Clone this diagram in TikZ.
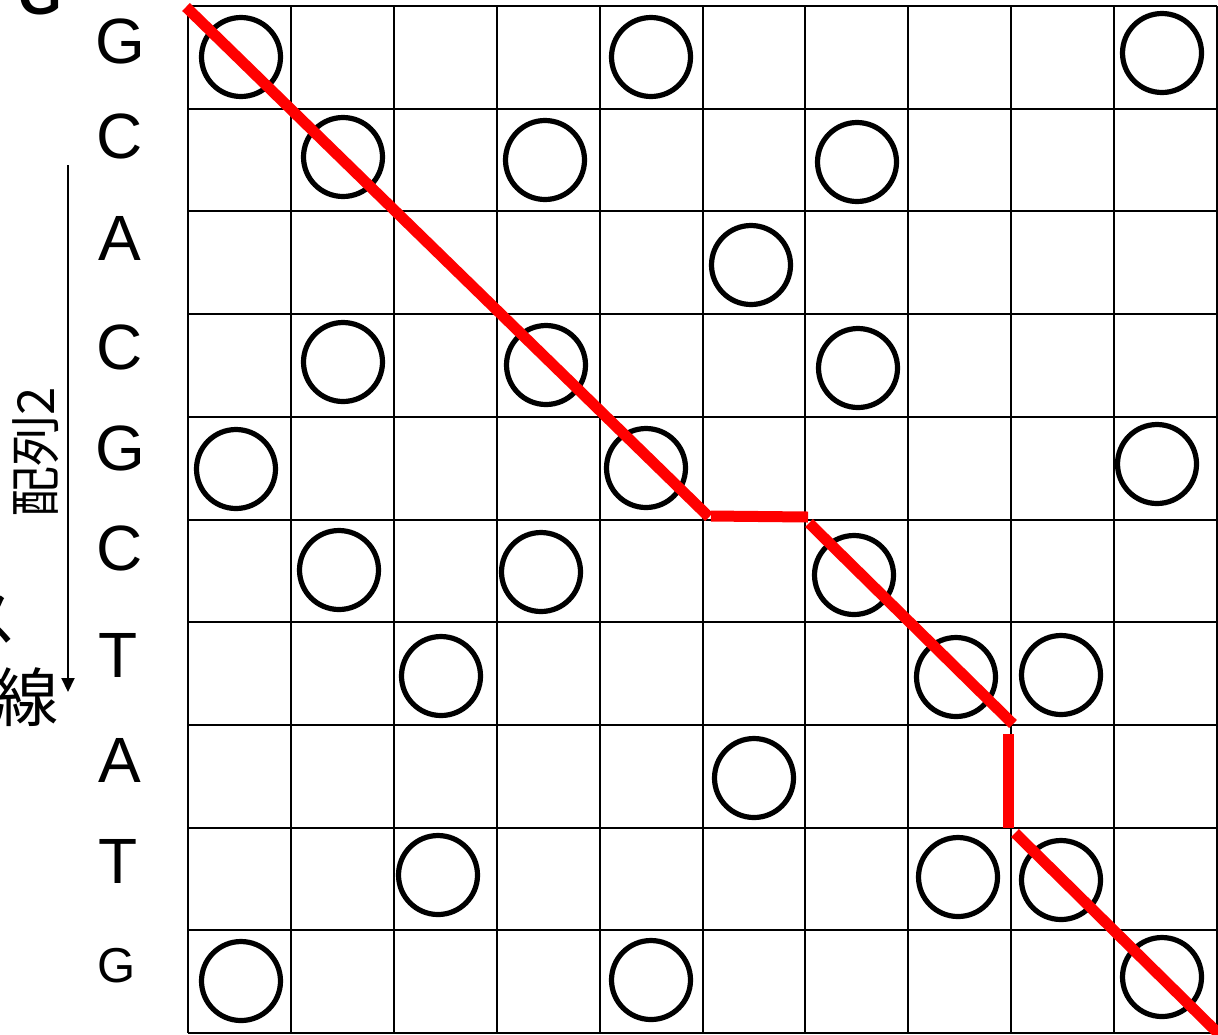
\documentclass[tikz,border=0pt]{standalone}
\usepackage{fontspec}
\setmainfont{Liberation Sans}
\newfontfamily\jp{Noto Sans CJK JP}
\usetikzlibrary{arrows.meta}
\begin{document}
\begin{tikzpicture}[x=0.5pt,y=-0.5pt,
  gridline/.style={line width=1pt},
  dot/.style={circle,draw,line width=2.6pt,minimum size=39.5pt,inner sep=0pt},
  redpath/.style={red,line width=5.5pt},
  rowlab/.style={font=\fontsize{32}{38}\selectfont,inner sep=0pt},
  smalllab/.style={font=\fontsize{24.5}{29}\selectfont,inner sep=0pt},
  jplab/.style={font=\jp\fontsize{25.5}{30}\selectfont,inner sep=0pt},
  jpbig/.style={font=\jp\fontsize{32}{38}\selectfont,inner sep=0pt}]
\useasboundingbox (0,0) rectangle (1218,1034);
\clip (0,0) rectangle (1218,1034);
% grid
\foreach \i in {0,...,10} {
  \draw[gridline] ({188+102.9*\i},6) -- ({188+102.9*\i},1033);
  \draw[gridline] (188,{6+102.7*\i}) -- (1217,{6+102.7*\i});
}
% row labels (sequence 2)
\node[rowlab] (r0) at (120,41) {G};
\node[rowlab] (r1) at (120,136) {C};
\node[rowlab] (r2) at (120,238) {A};
\node[rowlab] (r3) at (120,347) {C};
\node[rowlab] (r4) at (120,448) {G};
\node[rowlab] (r5) at (120,548) {C};
\node[rowlab] (r6) at (118,655) {T};
\node[rowlab] (r7) at (120,760) {A};
\node[rowlab] (r8) at (118,861) {T};
\node[smalllab] (r9) at (117,966) {G};
% cropped texts
\node[font=\fontsize{28}{34}\selectfont\bfseries,inner sep=0pt,anchor=base] (topg) at (40,14) {G};
\node[jplab,rotate=90] (seq2) at (36,452) {配列2};
\node[jpbig] (sen) at (27,697) {線};
\node[jpbig] (su) at (-14,620) {ス};
% arrow
\coordinate (a1) at (68,165);
\coordinate (a2) at (68,692);
\draw[line width=1pt,-{Triangle[length=7pt,width=6.5pt]}] (a1) -- (a2);
% circles
\node[dot] (c00) at (241,57) {};
\node[dot] (c04) at (651,57) {};
\node[dot] (c09) at (1162,53) {};
\node[dot] (c11) at (343,157) {};
\node[dot] (c13) at (545,160) {};
\node[dot] (c16) at (857,162) {};
\node[dot] (c25) at (751,265) {};
\node[dot] (c31) at (343,362) {};
\node[dot] (c33) at (546,365) {};
\node[dot] (c36) at (858,368) {};
\node[dot] (c40) at (236,469) {};
\node[dot] (c44) at (646,468) {};
\node[dot] (c49) at (1157,464) {};
\node[dot] (c51) at (339,570) {};
\node[dot] (c53) at (541,572) {};
\node[dot] (c56) at (854,575) {};
\node[dot] (c62) at (441,676) {};
\node[dot] (c67) at (956,677) {};
\node[dot] (c68) at (1061,675) {};
\node[dot] (c75) at (754,778) {};
\node[dot] (c82) at (438,875) {};
\node[dot] (c87) at (958,877) {};
\node[dot] (c88) at (1061,880) {};
\node[dot] (c90) at (241,981) {};
\node[dot] (c94) at (651,980) {};
\node[dot] (c99) at (1162,977) {};
% red alignment path
\coordinate (p0) at (186,7);
\coordinate (p1) at (709,517);
\coordinate (p2) at (711,516);
\coordinate (p3) at (808,517);
\coordinate (p4) at (809,523);
\coordinate (p5) at (1013,724);
\coordinate (p6) at (1008,734);
\coordinate (p7) at (1008,828);
\coordinate (p8) at (1015,833);
\coordinate (p9) at (1228,1043);
\draw[redpath] (p0) -- (p1);
\draw[redpath] (p2) -- (p3);
\draw[redpath] (p4) -- (p5);
\draw[redpath] (p6) -- (p7);
\draw[redpath] (p8) -- (p9);
\end{tikzpicture}
\end{document}
